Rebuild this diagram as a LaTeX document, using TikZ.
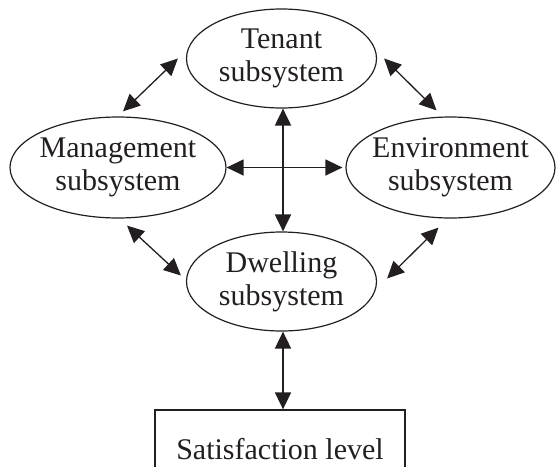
\documentclass[tikz,border=0pt]{standalone}
\usepackage{fontspec}
\setmainfont{Liberation Serif}
\usetikzlibrary{shapes.geometric,arrows.meta,calc}

\definecolor{ink}{HTML}{231F20}

\tikzset{
  bigtri/.tip={Triangle[length=17pt,width=16pt]},
  subsys/.style={ellipse, draw=ink, line width=1.2pt, inner xsep=-20pt, inner ysep=0pt,
    align=center, text=ink, font=\fontsize{30}{33}\selectfont},
  outbox/.style={rectangle, draw=ink, line width=1.3pt, inner sep=0pt,
    text=ink, font=\fontsize{30}{33}\selectfont},
  link/.style={draw=ink, line width=1.3pt, {bigtri}-{bigtri}},
  axis/.style={draw=ink, line width=2pt, {bigtri}-{bigtri}},
}

\begin{document}
\begin{tikzpicture}[x=1pt,y=-1pt]
  \useasboundingbox (0,0) rectangle (556,466);
  \clip (0,0) rectangle (556,466);

  % the four subsystems
  \node[subsys, minimum width=190pt, minimum height=99pt]  (ten) at (281.5,58.5)  {Tenant\\subsystem};
  \node[subsys, minimum width=216pt, minimum height=101pt] (man) at (118,167.5)   {Management\\subsystem};
  \node[subsys, minimum width=209pt, minimum height=101pt] (env) at (450.5,167.5) {Environment\\subsystem};
  \node[subsys, minimum width=190pt, minimum height=99pt]  (dwe) at (281.5,281.5) {Dwelling\\subsystem};

  % outcome box (its lower edge runs past the page)
  \node[outbox, minimum width=250pt, minimum height=78pt] (sat) at (280,449) {Satisfaction level};

  % ends of the diagonal links, set slightly off the ellipses
  \coordinate (tl1) at ($(ten.west)+(-8,0)$);
  \coordinate (tl2) at ($(man.north)+(5,-5)$);
  \coordinate (tr1) at ($(ten.east)+(7,0)$);
  \coordinate (tr2) at ($(env.north)+(-14,-6)$);
  \coordinate (bl1) at ($(man.south)+(9,7)$);
  \coordinate (bl2) at ($(dwe.west)+(-5,-6)$);
  \coordinate (br1) at ($(env.south)+(-12,9)$);
  \coordinate (br2) at ($(dwe.east)+(10,-3)$);

  % central cross
  \draw[axis] ([xshift=1.5pt]ten.south) -- ([xshift=1.5pt]dwe.north);
  \draw[link] (man.east) -- ([xshift=-3pt]env.west);

  % diagonal links
  \draw[link] (tl1) -- (tl2);
  \draw[link] (tr1) -- (tr2);
  \draw[link] (bl1) -- (bl2);
  \draw[link] (br1) -- (br2);

  % dwelling to satisfaction
  \draw[draw=ink, line width=1.7pt, {bigtri}-{bigtri}] ([xshift=1.5pt]dwe.south) -- ([xshift=3pt]sat.north);
\end{tikzpicture}
\end{document}
